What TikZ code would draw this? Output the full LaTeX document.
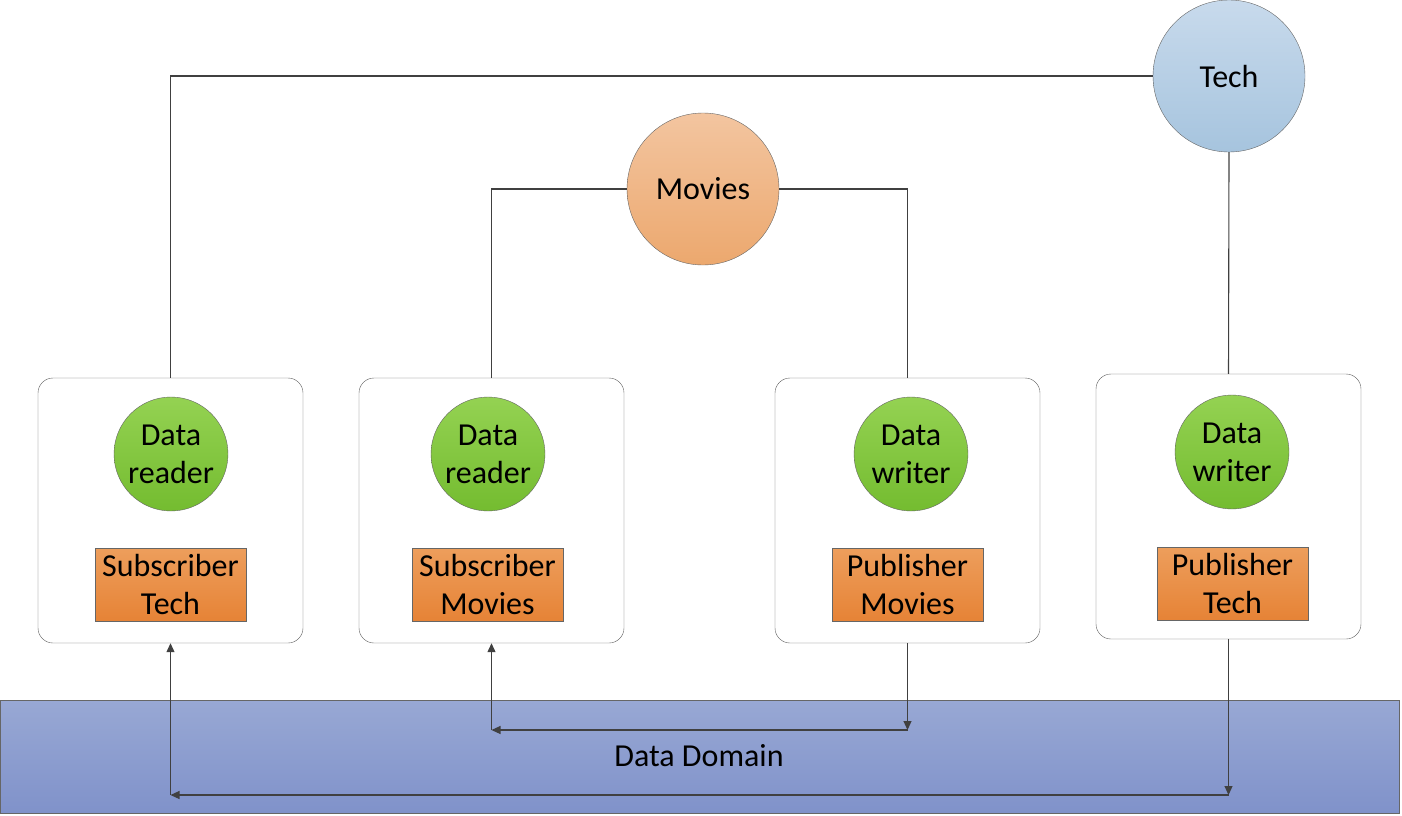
\documentclass[tikz,border=0pt]{standalone}
\usepackage{fontspec}
\setmainfont{Carlito}
\usetikzlibrary{arrows.meta,positioning}
\definecolor{techtop}{RGB}{200,218,236}
\definecolor{techbot}{RGB}{166,196,222}
\definecolor{movtop}{RGB}{243,197,160}
\definecolor{movbot}{RGB}{236,168,110}
\definecolor{greentop}{RGB}{148,210,82}
\definecolor{greenbot}{RGB}{116,188,48}
\definecolor{orgtop}{RGB}{237,158,92}
\definecolor{orgbot}{RGB}{230,131,54}
\definecolor{domtop}{RGB}{152,168,212}
\definecolor{dombot}{RGB}{128,146,202}
\definecolor{linegray}{RGB}{64,64,64}

\tikzset{
  topic/.style={circle,draw=linegray!80,minimum size=152pt,inner sep=0pt},
  entity/.style={circle,draw=linegray!80,minimum size=114pt,inner sep=0pt,
    top color=greentop,bottom color=greenbot,align=center},
  partbox/.style={rectangle,rounded corners=15pt,draw=linegray!85,fill=white,
    minimum width=265pt,minimum height=265pt},
  rolebox/.style={rectangle,draw=linegray!80,top color=orgtop,bottom color=orgbot,
    minimum width=151pt,minimum height=73pt,inner sep=0pt,align=center},
  link/.style={draw=linegray,line width=1.1pt},
  flow/.style={link,-{Triangle[length=9pt,width=8pt]}}
}

\begin{document}
\begin{tikzpicture}[x=1pt,y=-1pt,font=\fontsize{32}{38}\selectfont]
  \useasboundingbox (0,0) rectangle (1402,816);

  % data domain strip
  \node[rectangle,draw=linegray!80,top color=domtop,bottom color=dombot,
    minimum width=1399pt,minimum height=113pt] (domain) at (699.5,756.5) {};
  \node (domlabel) at (699,756) {Data Domain};

  % topics
  \node[topic,top color=techtop,bottom color=techbot] (tech) at (1229,76) {Tech};
  \node[topic,top color=movtop,bottom color=movbot] (movies) at (703,189) {Movies};

  % participants
  \node[partbox] (subtech) at (170.5,510.5) {};
  \node[partbox] (submov) at (491.5,510.5) {};
  \node[partbox] (pubmov) at (907.5,510.5) {};
  \node[partbox] (pubtech) at (1228.5,506.5) {};

  \node[entity] (rdtech) at (171,454) {Data\\reader};
  \node[entity] (rdmov) at (488,454) {Data\\reader};
  \node[entity] (wrmov) at (911,454) {Data\\writer};
  \node[entity] (wrtech) at (1232,452) {Data\\writer};

  \node[rolebox] (stech) at (170.5,584.5) {Subscriber\\Tech};
  \node[rolebox] (smov) at (487.5,584.5) {Subscriber\\Movies};
  \node[rolebox] (pmov) at (907.5,584.5) {Publisher\\Movies};
  \node[rolebox] (ptech) at (1232.5,583.5) {Publisher\\Tech};

  % topic links
  \draw[link] (tech.west) -- (tech.west -| subtech.north) -- (subtech.north);
  \draw[link] (movies.west) -- (movies.west -| submov.north) -- (submov.north);
  \draw[link] (movies.east) -- (movies.east -| pubmov.north) -- (pubmov.north);
  \draw[link] (tech.south) -- (pubtech.north);

  % samples through the domain
  \coordinate (movR) at (pubmov.south |- 0,730);
  \coordinate (movL) at (submov.south |- 0,730);
  \coordinate (techR) at (pubtech.south |- 0,795);
  \coordinate (techL) at (subtech.south |- 0,795);
  \draw[flow] (pubmov.south) -- (movR);
  \draw[flow] (movR) -- (movL);
  \draw[flow] (movL) -- (submov.south);
  \draw[flow] (pubtech.south) -- (techR);
  \draw[flow] (techR) -- (techL);
  \draw[flow] (techL) -- (subtech.south);
\end{tikzpicture}
\end{document}
